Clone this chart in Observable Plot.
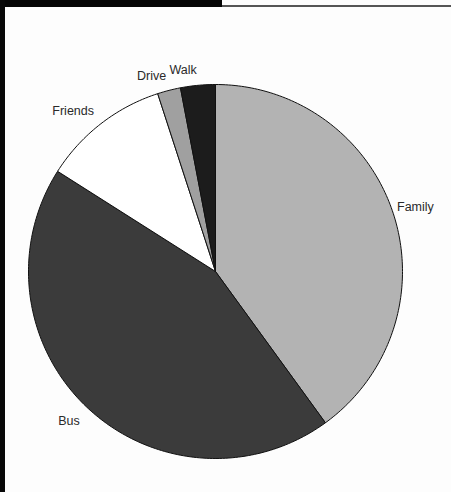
<!DOCTYPE html>
<html><head><meta charset="utf-8">
<script src="https://cdn.jsdelivr.net/npm/d3@7"></script>
<script src="https://cdn.jsdelivr.net/npm/@observablehq/plot@0.6"></script>
<style>
html,body{margin:0;padding:0;background:#fdfdfd;}
#wrap{position:relative;width:451px;height:492px;overflow:hidden;background:#fdfdfd;}
#bar{position:absolute;left:0;top:0;width:222px;height:7px;background:#050505;}
#line{position:absolute;left:222px;top:5px;width:229px;height:2px;background:#555;}
#left{position:absolute;left:0;top:0;width:5px;height:492px;background:#080808;}
#chart{position:absolute;left:0;top:0;}
</style></head>
<body><div id="wrap"><div id="chart"></div><div id="bar"></div><div id="line"></div><div id="left"></div></div>
<script>
const categories = ["Family", "Bus", "Friends", "Drive", "Walk"];
const values = [40, 44, 11, 2, 3];
const colors = ["#b3b3b3", "#3b3b3b", "#ffffff", "#a0a0a0", "#1c1c1c"];

const W = 451, H = 492, cx = 215, cy = 271, R = 187;
const total = d3.sum(values);
const slices = [];
const labels = [];
let acc = 0;
categories.forEach((name, i) => {
  const a0 = acc / total * 2 * Math.PI;
  acc += values[i];
  const a1 = acc / total * 2 * Math.PI;
  const n = Math.max(2, Math.ceil((a1 - a0) / (Math.PI / 180)));
  slices.push({name, x: 0, y: 0});
  for (let k = 0; k <= n; k++) {
    const a = a0 + (a1 - a0) * k / n;
    slices.push({name, x: Math.sin(a), y: Math.cos(a)});
  }
  slices.push({name, x: 0, y: 0});
  const am = (a0 + a1) / 2;
  labels.push({name, x: Math.sin(am) * 1.06, y: Math.cos(am) * 1.06, right: Math.sin(am) > 0, top: Math.cos(am) > 0});
});

const font = {fontSize: 12.5, fill: "#2a2a2a"};
const plot = Plot.plot({
  width: W, height: H,
  margin: 0,
  x: {domain: [-cx / R, (W - cx) / R], axis: null},
  y: {domain: [-(H - cy) / R, cy / R], axis: null},
  color: {domain: categories, range: colors},
  style: {background: "transparent", fontFamily: "'Liberation Sans', Arial, sans-serif"},
  marks: [
    Plot.line(slices, {x: "x", y: "y", z: "name", fill: "name", stroke: "#111", strokeWidth: 1, curve: "linear"}),
    Plot.text(labels.filter(d => d.right && d.top), {x: "x", y: "y", text: "name", textAnchor: "start", lineAnchor: "bottom", dx: -7, dy: 1, ...font}),
    Plot.text(labels.filter(d => d.right && !d.top), {x: "x", y: "y", text: "name", textAnchor: "start", lineAnchor: "top", dx: -7, ...font}),
    Plot.text(labels.filter(d => !d.right && d.top), {x: "x", y: "y", text: "name", textAnchor: "end", lineAnchor: "bottom", ...font}),
    Plot.text(labels.filter(d => !d.right && !d.top), {x: "x", y: "y", text: "name", textAnchor: "end", lineAnchor: "top", ...font})
  ]
});
document.getElementById("chart").appendChild(plot);
</script></body></html>
